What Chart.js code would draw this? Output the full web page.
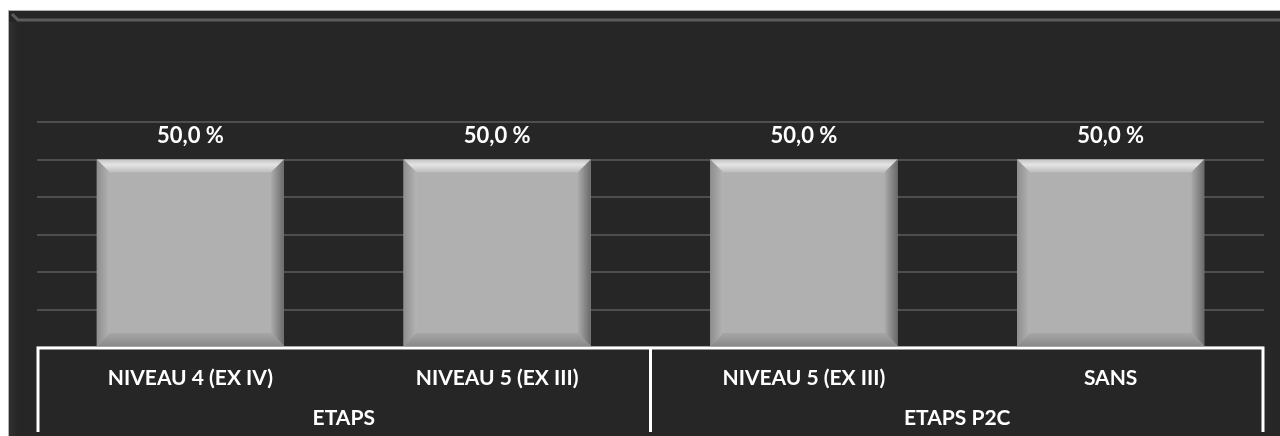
<!DOCTYPE html>
<html>
<head>
<meta charset="utf-8">
<script src="https://cdn.jsdelivr.net/npm/chart.js@4"></script>
<style>
  html, body { margin: 0; padding: 0; background: #ffffff; }
  #wrap { width: 1280px; height: 436px; position: relative; }
</style>
</head>
<body>
<div id="wrap"><canvas id="levelChart"></canvas></div>
<script>
// Répartition par niveau
const categories = ['NIVEAU 4 (EX IV)', 'NIVEAU 5 (EX III)', 'NIVEAU 5 (EX III)', 'SANS'];
const groups = ['ETAPS', 'ETAPS P2C'];
const groupSizes = [2, 2];
const values = [50, 50, 50, 50];
const valueLabels = ['50,0 %', '50,0 %', '50,0 %', '50,0 %'];

const FONT = 'Lato, "Open Sans", sans-serif';

// dark panel behind the chart
const panelBg = {
  id: 'panelBg',
  beforeDraw(chart) {
    const ctx = chart.ctx;
    const w = chart.width, h = chart.height;
    ctx.save();
    ctx.fillStyle = '#ffffff';
    ctx.fillRect(0, 0, w, h);
    ctx.fillStyle = '#262626';
    ctx.fillRect(8, 10, w - 8, h - 10);
    // outer border
    ctx.fillStyle = '#b0b0b0';
    ctx.fillRect(8, 10, w - 8, 1);
    ctx.fillRect(8, 10, 1, h - 10);
    // bevel highlight
    ctx.strokeStyle = '#5c5c5c';
    ctx.lineWidth = 3;
    ctx.beginPath();
    ctx.moveTo(12, 14);
    ctx.lineTo(18, 20);
    ctx.lineTo(w, 20);
    ctx.stroke();
    const g = ctx.createLinearGradient(9, 0, 18, 0);
    g.addColorStop(0, '#303030');
    g.addColorStop(1, '#262626');
    ctx.fillStyle = g;
    ctx.fillRect(9, 22, 9, h - 22);
    ctx.restore();
  }
};

// bevelled bars + value labels
const bevelBars = {
  id: 'bevelBars',
  afterDatasetsDraw(chart) {
    const ctx = chart.ctx;
    const meta = chart.getDatasetMeta(0);
    const b = 13;
    ctx.save();
    meta.data.forEach((bar, i) => {
      const p = bar.getProps(['x', 'y', 'base', 'width'], true);
      const L = p.x - p.width / 2, R = p.x + p.width / 2;
      const T = p.y, B = p.base;

      let g = ctx.createLinearGradient(0, T, 0, T + b);
      g.addColorStop(0, '#c4c4c4');
      g.addColorStop(0.4, '#e4e4e4');
      g.addColorStop(1, '#bcbcbc');
      ctx.fillStyle = g;
      ctx.beginPath();
      ctx.moveTo(L, T); ctx.lineTo(R, T); ctx.lineTo(R - b, T + b); ctx.lineTo(L + b, T + b);
      ctx.closePath(); ctx.fill();

      g = ctx.createLinearGradient(L, 0, L + b, 0);
      g.addColorStop(0, '#8e8e8e');
      g.addColorStop(1, '#b4b4b4');
      ctx.fillStyle = g;
      ctx.beginPath();
      ctx.moveTo(L, T); ctx.lineTo(L + b, T + b); ctx.lineTo(L + b, B - b); ctx.lineTo(L, B);
      ctx.closePath(); ctx.fill();

      g = ctx.createLinearGradient(R - b, 0, R, 0);
      g.addColorStop(0, '#acacac');
      g.addColorStop(1, '#6a6a6a');
      ctx.fillStyle = g;
      ctx.beginPath();
      ctx.moveTo(R, T); ctx.lineTo(R, B); ctx.lineTo(R - b, B - b); ctx.lineTo(R - b, T + b);
      ctx.closePath(); ctx.fill();

      g = ctx.createLinearGradient(0, B - b, 0, B);
      g.addColorStop(0, '#a6a6a6');
      g.addColorStop(1, '#8a8a8a');
      ctx.fillStyle = g;
      ctx.beginPath();
      ctx.moveTo(L, B); ctx.lineTo(R, B); ctx.lineTo(R - b, B - b); ctx.lineTo(L + b, B - b);
      ctx.closePath(); ctx.fill();

      ctx.fillStyle = '#ffffff';
      ctx.font = 'bold 22px ' + FONT;
      ctx.textAlign = 'center';
      ctx.textBaseline = 'middle';
      ctx.fillText(valueLabels[i], p.x, T - 24);
    });
    ctx.restore();
  }
};

// two-level category axis frame and group names
const groupAxis = {
  id: 'groupAxis',
  afterDraw(chart) {
    const ctx = chart.ctx;
    const x = chart.scales.x;
    const area = chart.chartArea;
    const y0 = area.bottom + 1;
    const yEnd = 432;
    const step = x.getPixelForValue(1) - x.getPixelForValue(0);
    ctx.save();
    ctx.strokeStyle = '#ffffff';
    ctx.lineWidth = 3;
    ctx.beginPath();
    ctx.moveTo(area.left + 1, yEnd);
    ctx.lineTo(area.left + 1, y0);
    ctx.lineTo(area.right - 1, y0);
    ctx.lineTo(area.right - 1, yEnd);
    ctx.stroke();

    ctx.fillStyle = '#ffffff';
    ctx.font = 'bold 21px ' + FONT;
    ctx.textAlign = 'center';
    ctx.textBaseline = 'middle';
    let idx = 0;
    groups.forEach((name, gi) => {
      const first = idx, last = idx + groupSizes[gi] - 1;
      const left = x.getPixelForValue(first) - step / 2;
      const right = x.getPixelForValue(last) + step / 2;
      if (gi > 0) {
        ctx.beginPath();
        ctx.moveTo(left, y0);
        ctx.lineTo(left, yEnd);
        ctx.stroke();
      }
      ctx.fillText(name, (left + right) / 2, 418);
      idx += groupSizes[gi];
    });
    ctx.restore();
  }
};

new Chart(document.getElementById('levelChart'), {
  type: 'bar',
  data: {
    labels: categories,
    datasets: [{
      data: values,
      backgroundColor: '#b0b0b0',
      borderWidth: 0,
      categoryPercentage: 1,
      barPercentage: 0.61
    }]
  },
  options: {
    responsive: true,
    maintainAspectRatio: false,
    animation: false,
    layout: { padding: { top: 122, left: 37, right: 16, bottom: 0 } },
    plugins: {
      legend: { display: false },
      tooltip: { enabled: false }
    },
    scales: {
      x: {
        grid: { display: false },
        border: { display: false },
        ticks: {
          color: '#ffffff',
          font: { family: FONT, size: 21, weight: 'bold' },
          padding: 11,
          maxRotation: 0
        },
        afterFit(scale) { scale.height = 89; }
      },
      y: {
        min: 0,
        max: 60,
        ticks: { display: false, stepSize: 10 },
        grid: { color: '#4e4e4e', lineWidth: 2, drawTicks: false },
        border: { display: false },
        afterFit(scale) { scale.width = 0; }
      }
    }
  },
  plugins: [panelBg, bevelBars, groupAxis]
});
</script>
</body>
</html>
